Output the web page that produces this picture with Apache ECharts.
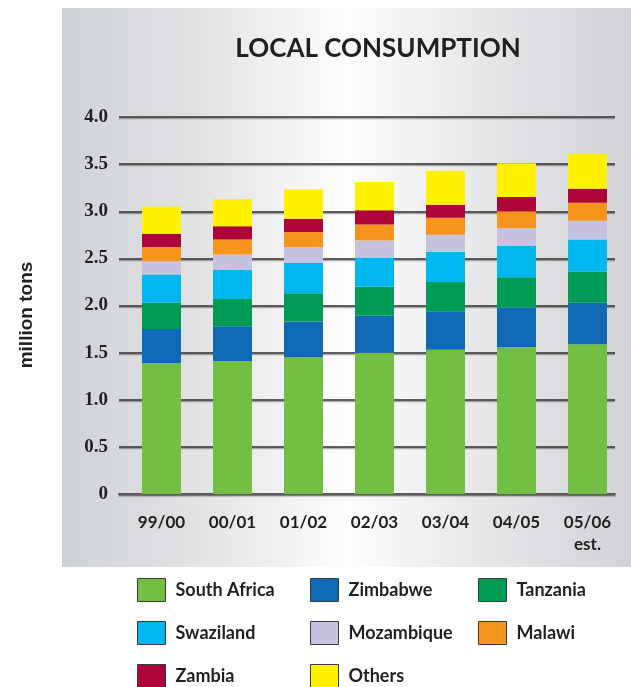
<!DOCTYPE html>
<html>
<head>
<meta charset="utf-8">
<title>Local Consumption</title>
<script src="https://cdn.jsdelivr.net/npm/echarts@6/dist/echarts.min.js"></script>
<style>
  html, body { margin: 0; padding: 0; background: #ffffff; }
  #chart { width: 631px; height: 687px; }
</style>
</head>
<body>
<div id="chart"></div>
<script>
// Seasons (million tons per country)
const categories = ['99/00', '00/01', '01/02', '02/03', '03/04', '04/05', '05/06\nest.'];

const southAfrica = [1.39, 1.41, 1.45, 1.50, 1.53, 1.56, 1.59];
const zimbabwe    = [0.36, 0.37, 0.38, 0.39, 0.41, 0.42, 0.44];
const tanzania    = [0.28, 0.29, 0.30, 0.31, 0.31, 0.32, 0.33];
const swaziland   = [0.30, 0.31, 0.32, 0.31, 0.32, 0.33, 0.34];
const mozambique  = [0.14, 0.16, 0.17, 0.18, 0.18, 0.19, 0.20];
const malawi      = [0.15, 0.16, 0.16, 0.17, 0.18, 0.18, 0.19];
const zambia      = [0.14, 0.14, 0.14, 0.15, 0.14, 0.15, 0.15];
const others      = [0.29, 0.29, 0.31, 0.30, 0.36, 0.36, 0.37];

const yTicks = [0, 0.5, 1.0, 1.5, 2.0, 2.5, 3.0, 3.5, 4.0];

const seriesDefs = [
  { name: 'South Africa', data: southAfrica, color: '#72bf44' },
  { name: 'Zimbabwe',     data: zimbabwe,    color: '#0f69b4' },
  { name: 'Tanzania',     data: tanzania,    color: '#009c55' },
  { name: 'Swaziland',    data: swaziland,   color: '#00b8ef' },
  { name: 'Mozambique',   data: mozambique,  color: '#c6c3e0' },
  { name: 'Malawi',       data: malawi,      color: '#f7941d' },
  { name: 'Zambia',       data: zambia,      color: '#ad0538' },
  { name: 'Others',       data: others,      color: '#fff200' }
];

const sansFont = 'Lato';
const textColor = '#231f20';

const chart = echarts.init(document.getElementById('chart'), null, { renderer: 'canvas' });

// one legend column per group, stacked top to bottom
function legendColumn(left, names) {
  return {
    left: left,
    top: 578,
    height: 200,
    orient: 'vertical',
    icon: 'rect',
    itemWidth: 28,
    itemHeight: 23,
    itemGap: 19,
    padding: 0,
    selectedMode: false,
    data: names,
    itemStyle: { borderColor: '#3a3a3a', borderWidth: 1 },
    textStyle: {
      fontFamily: sansFont,
      fontWeight: 'bold',
      fontSize: 18,
      color: textColor,
      padding: [0, 0, 0, 5]
    }
  };
}

const option = {
  animation: false,
  backgroundColor: '#ffffff',
  graphic: [
    {
      type: 'rect',
      z: -10,
      silent: true,
      shape: { x: 62, y: 8, width: 569, height: 559 },
      style: {
        fill: new echarts.graphic.LinearGradient(0, 0, 1, 0, [
          { offset: 0,    color: '#cfd2d5' },
          { offset: 0.22, color: '#e0e1e3' },
          { offset: 0.5,  color: '#fdfdfd' },
          { offset: 0.75, color: '#e5e6e8' },
          { offset: 1,    color: '#d1d3d6' }
        ])
      }
    },
    {
      type: 'text',
      z: 10,
      x: 27,
      y: 315,
      rotation: Math.PI / 2,
      style: {
        text: 'million tons',
        fontFamily: 'Liberation Sans',
        fontWeight: 'bold',
        fontSize: 19,
        fill: textColor,
        align: 'center',
        verticalAlign: 'middle'
      }
    }
  ],
  title: {
    text: 'LOCAL CONSUMPTION',
    left: 373,
    top: 31,
    textAlign: 'center',
    textStyle: {
      fontFamily: sansFont,
      fontWeight: 'bold',
      fontSize: 26,
      color: textColor
    }
  },
  legend: [
    legendColumn(137, ['South Africa', 'Swaziland', 'Zambia']),
    legendColumn(310, ['Zimbabwe', 'Mozambique', 'Others']),
    legendColumn(478, ['Tanzania', 'Malawi'])
  ],
  grid: [
    // bars
    { left: 126, right: 8, top: 117, bottom: 193, containLabel: false },
    // gridlines and value labels
    { left: 119, right: 16, top: 117, bottom: 193, containLabel: false }
  ],
  xAxis: [
    {
      gridIndex: 0,
      type: 'category',
      data: categories,
      axisLine: { show: false },
      axisTick: { show: false },
      axisLabel: {
        margin: 18,
        fontFamily: sansFont,
        fontWeight: 'bold',
        fontSize: 17,
        lineHeight: 22,
        color: textColor,
        verticalAlign: 'top'
      }
    },
    {
      gridIndex: 1,
      type: 'value',
      min: 0,
      max: 1,
      axisLine: { show: true, lineStyle: { color: '#5c5c5c', width: 2, shadowColor: 'rgba(0,0,0,0.25)', shadowOffsetY: 1.5 } },
      axisTick: { show: false },
      axisLabel: { show: false },
      splitLine: { show: false }
    }
  ],
  yAxis: [
    {
      gridIndex: 0,
      type: 'value',
      min: 0,
      max: 4,
      interval: 0.5,
      show: false
    },
    {
      gridIndex: 1,
      type: 'value',
      min: yTicks[0],
      max: yTicks[yTicks.length - 1],
      interval: 0.5,
      axisLine: { show: false },
      axisTick: { show: false },
      splitLine: {
        show: true,
        lineStyle: { color: '#2b2b2b', width: 1.5, shadowColor: 'rgba(0,0,0,0.3)', shadowOffsetY: 1.5 }
      },
      axisLabel: {
        margin: 11,
        fontFamily: 'Liberation Serif',
        fontWeight: 'bold',
        fontSize: 19,
        color: textColor,
        formatter: function (v) { return v === 0 ? '0' : v.toFixed(1); }
      }
    }
  ],
  series: seriesDefs.map(function (s) {
    return {
      name: s.name,
      type: 'bar',
      stack: 'total',
      xAxisIndex: 0,
      yAxisIndex: 0,
      barWidth: 39,
      z: 3,
      itemStyle: { color: s.color },
      data: s.data
    };
  })
};

chart.setOption(option);
</script>
</body>
</html>
